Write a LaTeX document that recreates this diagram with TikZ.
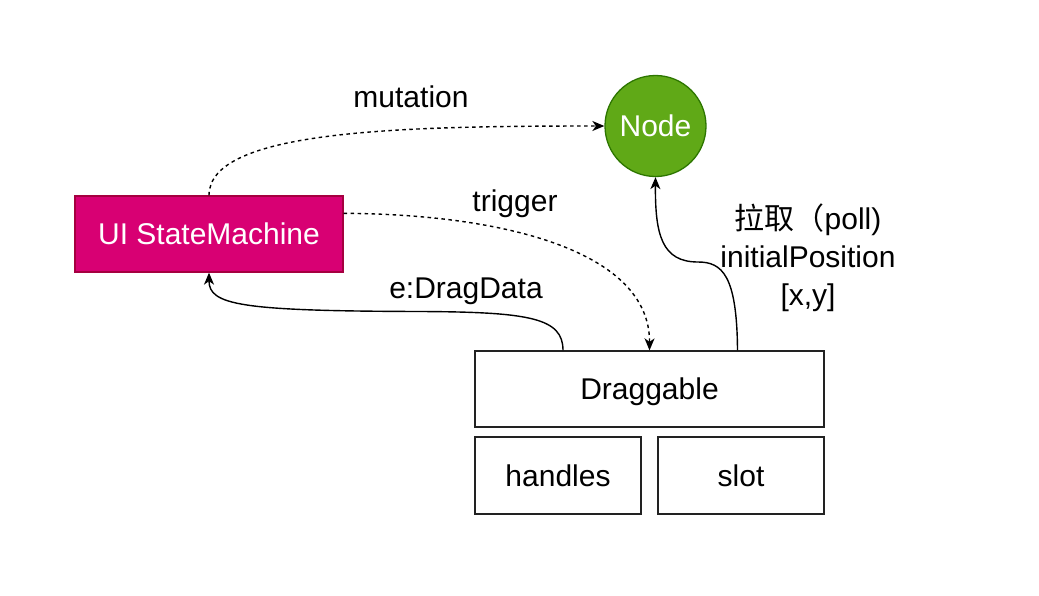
\documentclass[tikz,border=0pt]{standalone}
\usepackage{fontspec}
\setmainfont{Liberation Sans}
\newfontfamily\cjk{Noto Sans CJK SC}
\usetikzlibrary{arrows.meta}
\definecolor{smfill}{HTML}{D80073}
\definecolor{smline}{HTML}{A50040}
\definecolor{ndfill}{HTML}{60A917}
\definecolor{ndline}{HTML}{2D7600}
\definecolor{boxline}{HTML}{222222}
\begin{document}
\begin{tikzpicture}[x=1pt,y=-1pt,
  font=\fontsize{30}{38}\selectfont,
  txt/.style={text height=21.5pt, text depth=0pt},
  plainbox/.style={txt, draw=boxline, line width=1.3pt, fill=white, inner sep=0pt},
  smbox/.style={txt, draw=smline, line width=1.3pt, fill=smfill, text=white, inner sep=0pt,
    minimum width=268pt, minimum height=76pt},
  ndcirc/.style={txt, circle, draw=ndline, line width=1.3pt, fill=ndfill, text=white,
    minimum size=101pt, inner sep=0pt},
  conn/.style={line width=1.4pt, -{Stealth[length=12pt,width=10pt,inset=3.5pt]}},
  dconn/.style={conn, dash pattern=on 3.5pt off 3.5pt},
  lbl/.style={txt, inner sep=0pt, align=center}]
\useasboundingbox (0,0) rectangle (1039,595);

\node[smbox] (sm) at (209,234) {UI StateMachine};
\node[ndcirc] (nd) at (655.5,126) {Node};
\node[plainbox, minimum width=349pt, minimum height=76pt] (drag) at (649.5,389) {Draggable};
\node[plainbox, minimum width=166pt, minimum height=77pt] (hand) at (558,475.5) {handles};
\node[plainbox, minimum width=166pt, minimum height=77pt] (slot) at (741,475.5) {slot};

\coordinate (trs) at ([yshift=-18pt]sm.north east);
\coordinate (dds) at ([xshift=-86.5pt]drag.north);
\coordinate (pls) at ([xshift=88pt]drag.north);

\draw[dconn] (sm.north) .. controls (209,130) and (400,126) .. (nd.west);
\draw[dconn] (trs) .. controls (500,214) and (650,250) .. (drag.north);
\draw[conn] (dds) .. controls (563,318) and (530,312) .. (420,311.5)
  .. controls (240,311) and (209,305) .. (sm.south);
\draw[conn] (pls) .. controls (737,275) and (722,262) .. (698,262)
  .. controls (662,262) and (655,235) .. (nd.south);

\node[lbl] (lmut) at (411,97) {mutation};
\node[lbl] (ltrg) at (515,201) {trigger};
\node[lbl] (ldd) at (466,288) {e:DragData};
\node[inner sep=0pt, align=center] (lpoll) at (808,258) {{\cjk 拉取（}poll)\\initialPosition\\{[x,y]}};
\end{tikzpicture}
\end{document}
